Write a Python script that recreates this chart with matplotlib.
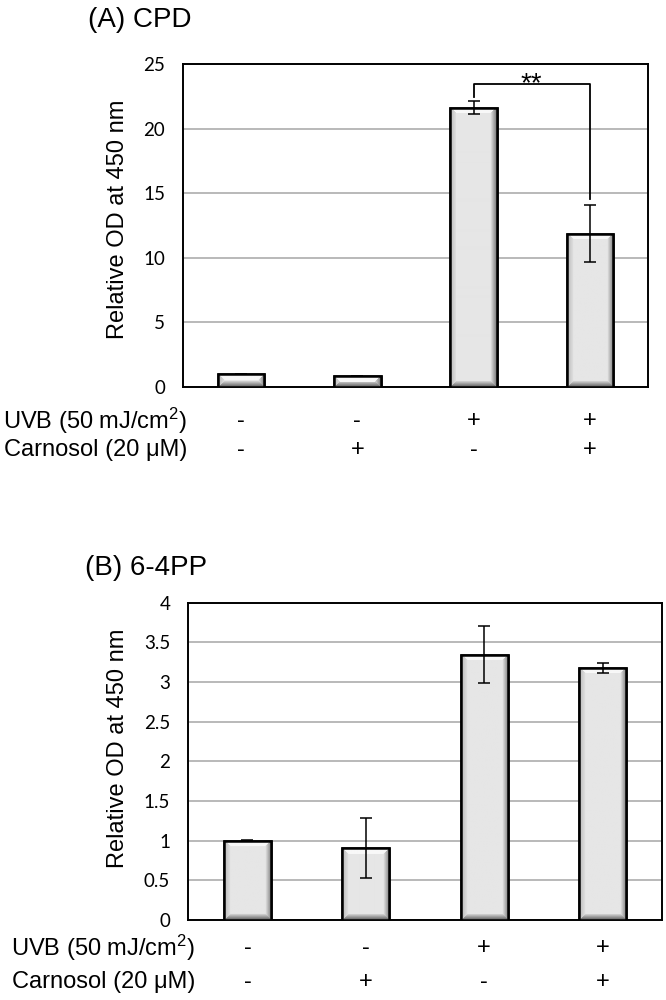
import numpy as np
import matplotlib
matplotlib.use("Agg")
import matplotlib.pyplot as plt
import matplotlib.transforms as mtransforms

# data
groups = [0, 1, 2, 3]
uvb = ["-", "-", "+", "+"]
carnosol = ["-", "+", "-", "+"]

cpd_vals = [1.0, 0.85, 21.6, 11.85]
cpd_err = [0.0, 0.0, 0.5, 2.2]

pp_vals = [1.0, 0.905, 3.345, 3.18]
pp_err = [0.005, 0.375, 0.36, 0.06]

cpd_ticks = [0, 5, 10, 15, 20, 25]
pp_ticks = [0, 0.5, 1, 1.5, 2, 2.5, 3, 3.5, 4]
pp_ticklabels = ["0", "0.5", "1", "1.5", "2", "2.5", "3", "3.5", "4"]

ARIAL = "Liberation Sans"
TICKF = "Lato"
plt.rcParams["mathtext.fontset"] = "custom"
plt.rcParams["mathtext.rm"] = ARIAL
plt.rcParams["mathtext.default"] = "regular"

fig = plt.figure(figsize=(6.66, 10), dpi=100)


def bevel_image(nx, ny, b=6):
    X, Y = np.meshgrid(np.arange(nx) + 0.5, np.arange(ny) + 0.5)
    d = np.stack([X, nx - X, Y, ny - Y])
    side = d.argmin(0)
    t = np.clip(d.min(0) / b, 0, 1)
    img = np.full((ny, nx), 0.90)
    edge = t < 1
    # left, right, top, bottom bands
    left = 0.72 + 0.15 * t
    right = 0.45 + 0.42 * t
    top = np.full_like(t, 0.97)
    bottom = 0.36 + 0.48 * t
    for k, arr in enumerate([left, right, top, bottom]):
        m = edge & (side == k)
        img[m] = arr[m]
    return img


def draw_panel(ax, vals, errs, ymax, ticks, ticklabels):
    ax.set_xlim(-0.5, 3.5)
    ax.set_ylim(0, ymax)
    ax.set_yticks(ticks)
    ax.set_yticklabels(ticklabels, fontfamily=TICKF, fontsize=13.5)
    ax.set_xticks([])
    ax.tick_params(axis="y", length=0, pad=13)
    ax.yaxis.grid(True, color="#a6a6a6", lw=1.1)
    ax.set_axisbelow(True)
    for s in ax.spines.values():
        s.set_linewidth(1.4)
        s.set_color("black")
    bars = ax.bar(groups, vals, width=0.4, color="#e6e6e6",
                  edgecolor="black", linewidth=1.8, zorder=3)
    fig.canvas.draw()
    for bar in bars:
        x0, y0 = bar.get_x(), bar.get_y()
        x1, y1 = x0 + bar.get_width(), y0 + bar.get_height()
        p0 = ax.transData.transform((x0, y0))
        p1 = ax.transData.transform((x1, y1))
        nx = max(int(round(p1[0] - p0[0])), 2)
        ny = max(int(round(p1[1] - p0[1])), 2)
        im = ax.imshow(bevel_image(nx, ny), cmap="gray", vmin=0, vmax=1,
                       extent=(x0, x1, y0, y1), aspect="auto",
                       interpolation="bilinear", zorder=3.5, origin="upper")
        im.set_clip_path(bar)
        ax.add_patch(plt.Rectangle((x0, y0), x1 - x0, y1 - y0, fill=False,
                                   edgecolor="black", linewidth=1.8, zorder=4))
    ax.errorbar(groups, vals, yerr=errs, fmt="none", ecolor="black",
                elinewidth=1.1, capsize=4.5, capthick=1.1, zorder=5)
    ax.set_xlim(-0.5, 3.5)
    ax.set_ylim(0, ymax)


def rows(ax, label_right_px, y_uvb_px, y_car_px):
    trans = mtransforms.blended_transform_factory(ax.transData, fig.transFigure)
    for yy, lab, syms in [(y_uvb_px, "UVB (50 mJ/cm$^2$)", uvb),
                          (y_car_px, "Carnosol (20 \u03bcM)", carnosol)]:
        fy = 1 - yy / 1000
        fig.text(label_right_px / 666, fy, lab, ha="right", va="center",
                 fontfamily=ARIAL, fontsize=17)
        for g, s in zip(groups, syms):
            ax.text(g, fy, s, transform=trans, ha="center", va="center",
                    fontfamily=ARIAL, fontsize=17)


# panel A
axA = fig.add_axes([183 / 666, 1 - 387 / 1000, 465 / 666, 323 / 1000])
draw_panel(axA, cpd_vals, cpd_err, 25, cpd_ticks, [str(t) for t in cpd_ticks])
axA.plot([2, 2, 3, 3], [22.42, 23.45, 23.45, 14.55], color="black", lw=1.3, zorder=6)
axA.text(2.5, 22.9, "**", ha="center", va="baseline", fontfamily=ARIAL, fontsize=20)
axA.text(-0.14, 0.52, "Relative OD at 450 nm", transform=axA.transAxes,
         rotation=90, ha="center", va="center", fontfamily=ARIAL, fontsize=17)
fig.text(88 / 666, 1 - 27 / 1000, "(A) CPD", ha="left", va="baseline",
         fontfamily=ARIAL, fontsize=20)
rows(axA, 187, 421, 450)

# panel B
axB = fig.add_axes([188.3 / 666, 1 - 920 / 1000, 473.4 / 666, 317.3 / 1000])
draw_panel(axB, pp_vals, pp_err, 4, pp_ticks, pp_ticklabels)
axB.text(-0.149, 0.54, "Relative OD at 450 nm", transform=axB.transAxes,
         rotation=90, ha="center", va="center", fontfamily=ARIAL, fontsize=17)
fig.text(85 / 666, 1 - 575 / 1000, "(B) 6-4PP", ha="left", va="baseline",
         fontfamily=ARIAL, fontsize=20)
rows(axB, 195, 948, 982)

fig.savefig("out.png", dpi=100)
